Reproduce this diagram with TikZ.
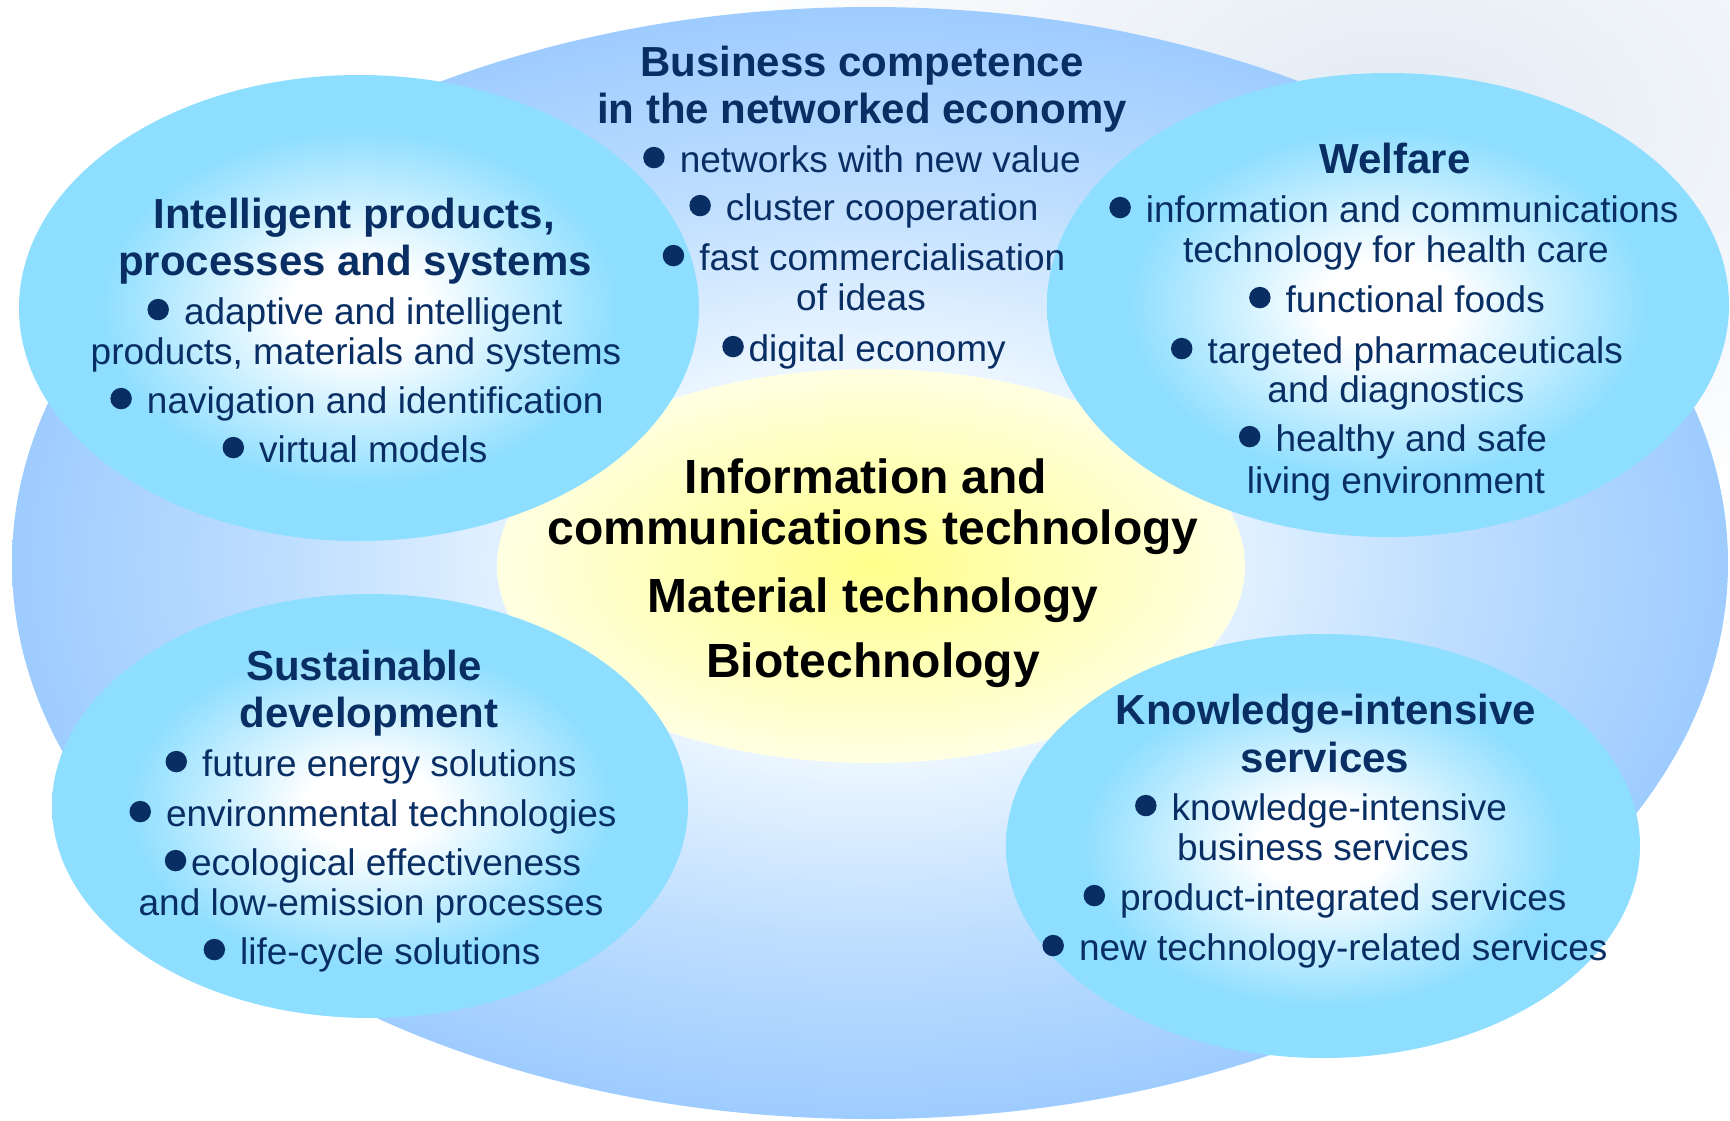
\documentclass[tikz,border=0pt]{standalone}
\usepackage{fontspec}
\setmainfont{Liberation Sans}
\definecolor{navy}{RGB}{8,46,100}
\definecolor{cyanE}{RGB}{142,222,255}
\definecolor{outerE}{RGB}{158,204,255}
\definecolor{outerM}{RGB}{190,222,255}
\definecolor{outerC}{RGB}{236,246,255}
\definecolor{yelC}{RGB}{255,255,140}
\definecolor{yelE}{RGB}{255,255,226}
\definecolor{hazeC}{RGB}{226,234,243}
\pgfdeclareradialshading{cyanball}{\pgfpoint{0bp}{0bp}}{color(0bp)=(white); color(5bp)=(white); color(19bp)=(cyanE); color(25bp)=(cyanE); color(50bp)=(cyanE)}
\pgfdeclareradialshading{bigball}{\pgfpoint{0bp}{0bp}}{color(0bp)=(outerC); color(9bp)=(outerC); color(17bp)=(outerM); color(25bp)=(outerE); color(50bp)=(outerE)}
\pgfdeclareradialshading{yelball}{\pgfpoint{0bp}{0bp}}{color(0bp)=(yelC); color(25bp)=(yelE); color(50bp)=(yelE)}
\pgfdeclareradialshading{hazeball}{\pgfpoint{0bp}{0bp}}{color(0bp)=(hazeC); color(25bp)=(white); color(50bp)=(white)}
\newcommand\bul{\tikz[baseline=0pt]\fill[navy] (0.29em,0.39em) circle[radius=0.29em];\hspace{0.13em}}
\tikzset{
  body/.style={anchor=base, text=navy, inner sep=0pt, font=\fontsize{18.5pt}{20pt}\selectfont},
  head/.style={anchor=base, text=navy, inner sep=0pt, font=\fontsize{21pt}{23.5pt}\selectfont\bfseries},
  core/.style={anchor=base, text=black, inner sep=0pt, font=\fontsize{24pt}{26.5pt}\selectfont\bfseries},
  bubble/.style={shading=cyanball},
}
\begin{document}
\begin{tikzpicture}[x=0.5pt,y=-0.5pt]
\useasboundingbox (0,0) rectangle (1730,1120);
\fill[white] (0,0) rectangle (1730,1120);
% haze
\path[shading=hazeball] (1400,120) ellipse [x radius=700, y radius=420];
% outer ellipse
\path[shading=bigball] (870,563) ellipse [x radius=858, y radius=556];
% central yellow
\path[shading=yelball] (871,566) ellipse [x radius=374, y radius=197];
% bubbles
\path[bubble] (359,308) ellipse [x radius=340, y radius=233];
\path[bubble] (1388,305) ellipse [x radius=341, y radius=232];
\path[bubble] (370,806) ellipse [x radius=318, y radius=212];
\path[bubble] (1323,846) ellipse [x radius=317, y radius=212];

% Business competence
\node[head] (bh1) at (862,76) {Business competence};
\node[head] (bh2) at (862,123) {in the networked economy};
\node[body] (b1) at (862,172) {\bul\ networks with new value};
\node[body] (b2) at (864,220) {\bul\ cluster cooperation};
\node[body] (b3) at (864,270) {\bul\ fast commercialisation};
\node[body] (b4) at (861,310) {of ideas};
\node[body] (b5) at (864,361) {\bul digital economy};

% Intelligent
\node[head] (ih1) at (354,228) {Intelligent products,};
\node[head] (ih2) at (355,275) {processes and systems};
\node[body] (i1) at (355,324) {\bul\ adaptive and intelligent};
\node[body] (i2) at (356,364) {products, materials and systems};
\node[body] (i3) at (357,413) {\bul\ navigation and identification};
\node[body] (i4) at (355,462) {\bul\ virtual models};

% Welfare
\node[head] (wh1) at (1395,173) {Welfare};
\node[body] (w1) at (1394,222) {\bul\ information and communications};
\node[body] (w2) at (1396,262) {technology for health care};
\node[body] (w3) at (1397,312) {\bul\ functional foods};
\node[body] (w4) at (1397,363) {\bul\ targeted pharmaceuticals};
\node[body] (w5) at (1396,402) {and diagnostics};
\node[body] (w6) at (1393,451) {\bul\ healthy and safe};
\node[body] (w7) at (1396,493) {living environment};

% Central
\node[core] (c1) at (866,493) {Information and};
\node[core] (c2) at (873,544) {communications technology};
\node[core] (c3) at (873,612) {Material technology};
\node[core] (c4) at (873,677) {Biotechnology};

% Sustainable
\node[head] (sh1) at (364,680) {Sustainable};
\node[head] (sh2) at (369,727) {development};
\node[body] (s1) at (371,776) {\bul\ future energy solutions};
\node[body] (s2) at (373,826) {\bul\ environmental technologies};
\node[body] (s3) at (373,875) {\bul ecological effectiveness};
\node[body] (s4) at (371,915) {and low-emission processes};
\node[body] (s5) at (372,964) {\bul\ life-cycle solutions};

% Knowledge
\node[head] (kh1) at (1326,724) {Knowledge-intensive};
\node[head] (kh2) at (1325,772) {services};
\node[body] (k1) at (1321,820) {\bul\ knowledge-intensive};
\node[body] (k2) at (1323,860) {business services};
\node[body] (k3) at (1325,910) {\bul\ product-integrated services};
\node[body] (k4) at (1325,960) {\bul\ new technology-related services};
\end{tikzpicture}
\end{document}
